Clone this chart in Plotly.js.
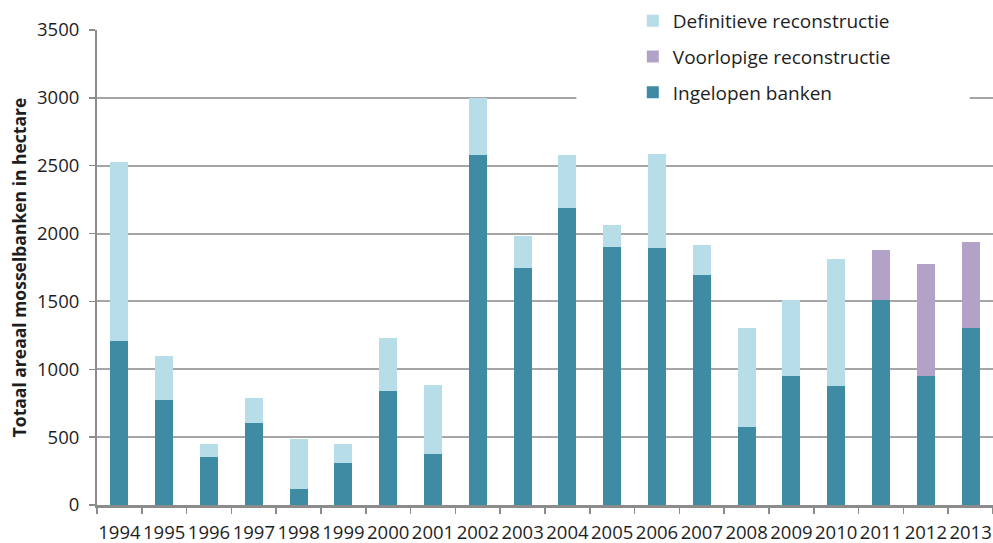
<!DOCTYPE html>
<html>
<head>
<meta charset="utf-8">
<script src="https://cdn.plot.ly/plotly-3.0.1.min.js"></script>
<style>html,body{margin:0;padding:0;background:#fff;}#chart{width:993px;height:543px;}</style>
</head>
<body>
<div id="chart"></div>
<script>
var years = ["1994","1995","1996","1997","1998","1999","2000","2001","2002","2003","2004","2005","2006","2007","2008","2009","2010","2011","2012","2013"];
var ingelopen = [1210,775,356,602,118,309,840,376,2580,1750,2190,1900,1895,1695,572,953,880,1510,948,1307];
var voorlopige = [0,0,0,0,0,0,0,0,0,0,0,0,0,0,0,0,0,369,826,631];
var definitieve = [1320,325,96,186,366,141,391,511,417,232,389,161,692,221,735,555,930,0,0,0];
var seriesNames = ["Ingelopen banken","Voorlopige reconstructie","Definitieve reconstructie"];

var colors = ["#3e8ba3","#b3a2c8","#b7dde8"];
var vals = [ingelopen, voorlopige, definitieve];
var data = vals.map(function(v,i){
  return {type:"bar", x:years, y:v, name:seriesNames[i], legendgroup:"g"+i, legendrank:3-i,
    marker:{color:colors[i], line:{width:0}}, hoverinfo:"x+y+name"};
});

var layout = {
  width:993, height:543,
  margin:{l:97, r:0, t:30, b:38, pad:0, autoexpand:false},
  paper_bgcolor:"#fff", plot_bgcolor:"#fff",
  barmode:"stack", bargap:0.6,
  font:{family:"Open Sans, sans-serif", color:"#1e1e1e", size:18.5},
  showlegend:true,
  legend:{x:0.598, y:1.059, xanchor:"left", yanchor:"top", bgcolor:"rgba(0,0,0,0)",
    traceorder:"grouped", tracegroupgap:8, itemwidth:30,
    font:{size:19, color:"#1e1e1e"}},
  shapes:[{type:"rect", xref:"paper", yref:"paper", x0:0.535, x1:0.974, y0:0.83, y1:1.06,
    fillcolor:"#ffffff", line:{width:0}, layer:"above"}],
  xaxis:{type:"category", showgrid:false, showline:true, linecolor:"#8c8c8c", linewidth:3,
    ticks:"outside", tickson:"boundaries", ticklen:6, tickcolor:"#8c8c8c", tickwidth:1.5,
    tickangle:0, ticklabelstandoff:9, tickfont:{size:18.5, color:"#1e1e1e"}, fixedrange:true},
  yaxis:{range:[0,3500], dtick:500, tick0:0, showgrid:true, gridcolor:"#a6a6a6", gridwidth:2,
    zeroline:false, showline:true, linecolor:"#8c8c8c", linewidth:2,
    ticks:"outside", ticklen:6, tickcolor:"#8c8c8c", tickwidth:1.5,
    ticklabelstandoff:6,
    tickfont:{size:18.5, color:"#1e1e1e"},
    title:{text:"Totaal areaal mosselbanken in hectare", standoff:6,
      font:{size:17.5, color:"#1e1e1e", family:"Open Sans, sans-serif", weight:"bold"}}}
};
Plotly.newPlot("chart", data, layout, {displayModeBar:false, staticPlot:true});
</script>
</body>
</html>
